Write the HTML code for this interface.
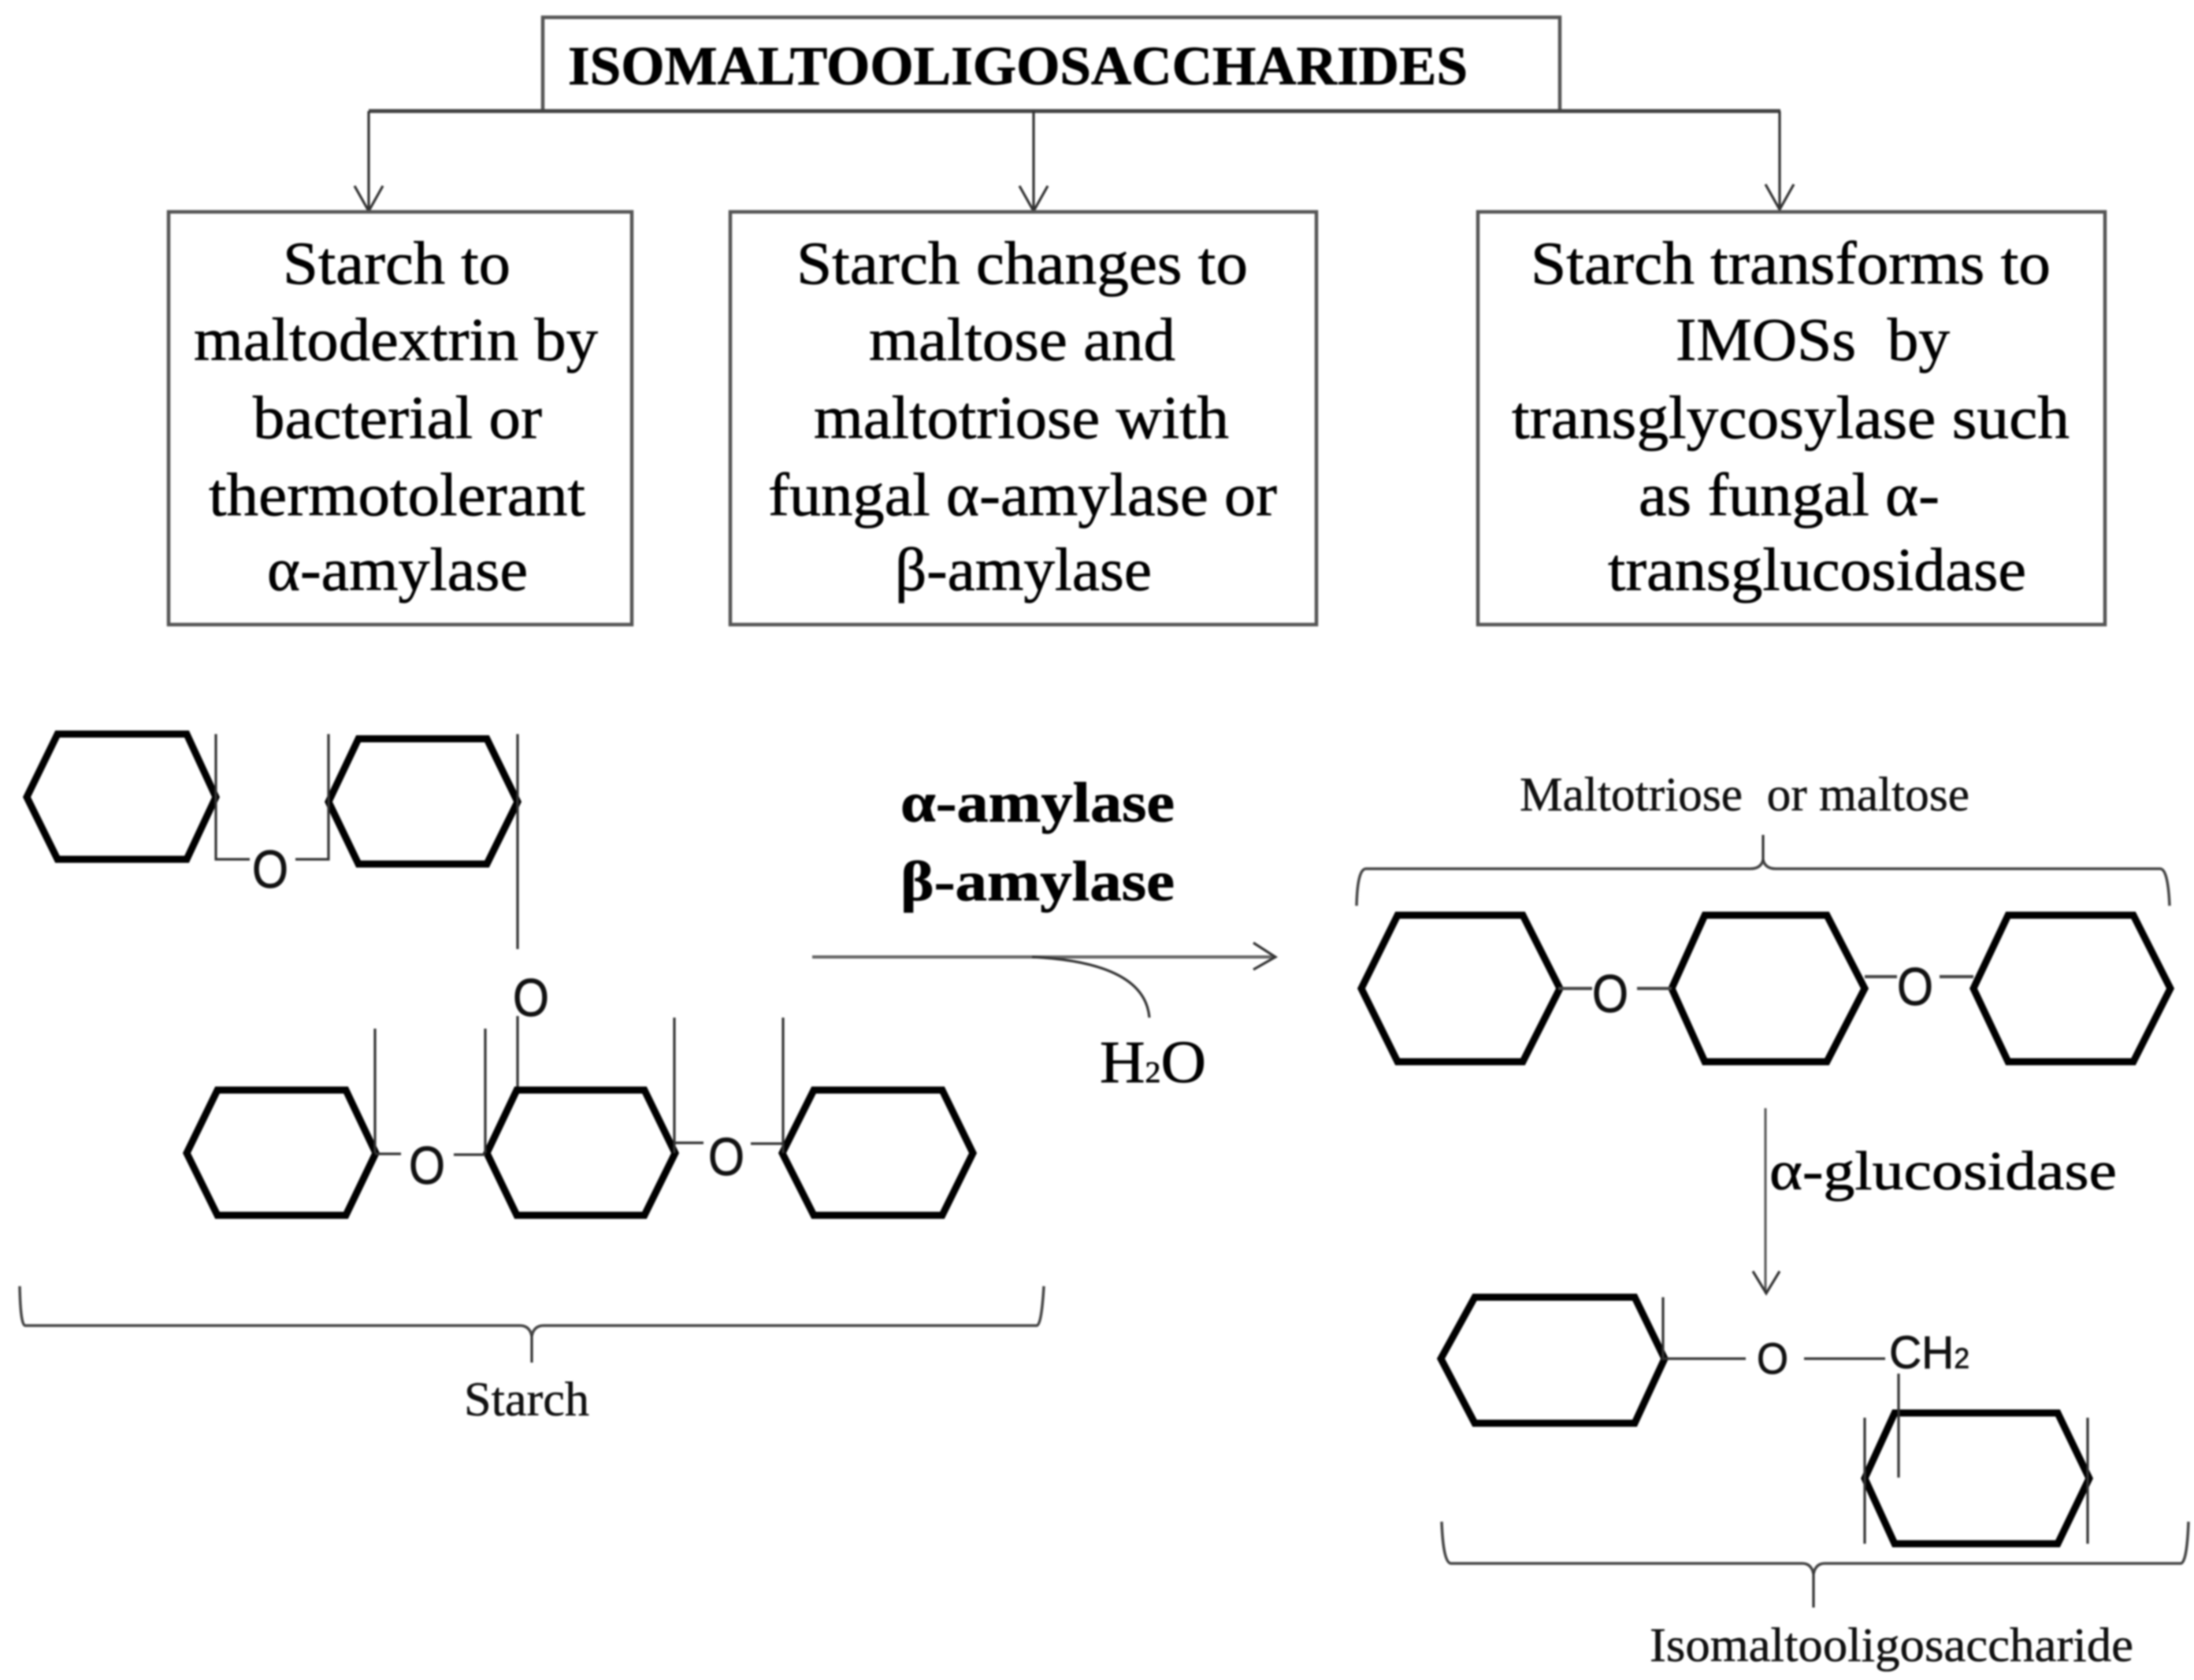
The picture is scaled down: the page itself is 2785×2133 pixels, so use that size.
<!DOCTYPE html>
<html>
<head>
<meta charset="utf-8">
<style>
html,body{margin:0;padding:0;background:#fff;width:2785px;height:2133px;overflow:hidden}
svg{display:block;filter:blur(1.1px)}
text{font-family:"Liberation Serif",serif;fill:#000;stroke:#000;stroke-width:0.7px;white-space:pre}
.b{font-size:77px}
.s{font-family:"Liberation Sans",sans-serif;font-size:68px;fill:#111;stroke:#111;stroke-width:0.8px}
.l{font-size:61px;fill:#111;stroke:#111;stroke-width:0.5px}
.hex{fill:none;stroke:#000;stroke-width:9;stroke-linejoin:miter}
.c{fill:none;stroke:#333;stroke-width:3.2}
.box{fill:none;stroke:#555;stroke-width:4.5}
.br{fill:none;stroke:#444;stroke-width:3.5}
</style>
</head>
<body>
<svg width="2785" height="2133" viewBox="0 0 2785 2133" xmlns="http://www.w3.org/2000/svg">
<rect width="2785" height="2133" fill="#fff"/>

<!-- top box -->
<path class="box" d="M689 141V22H1980V141"/>
<path d="M468 141H2260" fill="none" stroke="#444" stroke-width="5"/>
<text x="721" y="107" font-size="70" font-weight="bold" textLength="1142" lengthAdjust="spacingAndGlyphs">ISOMALTOOLIGOSACCHARIDES</text>

<!-- arrows -->
<path class="c" d="M468 141V268M450 236L468 268L486 236"/>
<path class="c" d="M1312 141V268M1294 236L1312 268L1330 236"/>
<path class="c" d="M2259 141V266M2241 234L2259 266L2277 234"/>

<!-- boxes -->
<rect class="box" x="214" y="269" width="588" height="524"/>
<rect class="box" x="927" y="269" width="744" height="524"/>
<rect class="box" x="1876" y="269" width="796" height="524"/>

<text class="b" x="359" y="360" textLength="289" lengthAdjust="spacingAndGlyphs">Starch to</text>
<text class="b" x="246" y="457" textLength="513" lengthAdjust="spacingAndGlyphs">maltodextrin by</text>
<text class="b" x="321" y="556" textLength="367" lengthAdjust="spacingAndGlyphs">bacterial or</text>
<text class="b" x="265" y="654" textLength="478" lengthAdjust="spacingAndGlyphs">thermotolerant</text>
<text class="b" x="339" y="749" textLength="331" lengthAdjust="spacingAndGlyphs">α-amylase</text>

<text class="b" x="1011" y="360" textLength="573" lengthAdjust="spacingAndGlyphs">Starch changes to</text>
<text class="b" x="1103" y="457" textLength="389" lengthAdjust="spacingAndGlyphs">maltose and</text>
<text class="b" x="1033" y="556" textLength="527" lengthAdjust="spacingAndGlyphs">maltotriose with</text>
<text class="b" x="975" y="654" textLength="646" lengthAdjust="spacingAndGlyphs">fungal α-amylase or</text>
<text class="b" x="1136" y="749" textLength="326" lengthAdjust="spacingAndGlyphs">β-amylase</text>

<text class="b" x="1943" y="360" textLength="660" lengthAdjust="spacingAndGlyphs">Starch transforms to</text>
<text class="b" x="2127" y="457" textLength="348" lengthAdjust="spacingAndGlyphs">IMOSs  by</text>
<text class="b" x="1919" y="556" textLength="708" lengthAdjust="spacingAndGlyphs">transglycosylase such</text>
<text class="b" x="2080" y="654" textLength="382" lengthAdjust="spacingAndGlyphs">as fungal α-</text>
<text class="b" x="2041" y="749" textLength="531" lengthAdjust="spacingAndGlyphs">transglucosidase</text>

<!-- starch structure -->
<polygon class="hex" points="34,1012 73,932 237,932 274,1012 237,1091 73,1091"/>
<polygon class="hex" points="417,1018 455,938 618,938 657,1018 618,1097 455,1097"/>
<path class="c" d="M274 932V1091H317M375 1091H417V932M657 932V1205"/>
<text class="s" x="320" y="1127" textLength="46" lengthAdjust="spacingAndGlyphs">O</text>
<text class="s" x="651" y="1290" textLength="46" lengthAdjust="spacingAndGlyphs">O</text>
<path class="c" d="M657 1290V1382"/>

<polygon class="hex" points="237,1464 276,1384 439,1384 477,1464 439,1543 276,1543"/>
<polygon class="hex" points="618,1464 656,1384 818,1384 857,1464 818,1543 656,1543"/>
<polygon class="hex" points="993,1464 1033,1384 1196,1384 1235,1464 1196,1543 1033,1543"/>
<path class="c" d="M476 1306V1464M616 1306V1464M856 1292V1464M994 1292V1464"/>
<path class="c" d="M476 1465H509M576 1466H616M857 1451H893M953 1452H994"/>
<text class="s" x="519" y="1503" textLength="46" lengthAdjust="spacingAndGlyphs">O</text>
<text class="s" x="899" y="1492" textLength="46" lengthAdjust="spacingAndGlyphs">O</text>

<path class="br" d="M25 1633Q26 1683 32 1683H660Q672 1683 675 1696Q678 1683 690 1683H1316Q1322 1683 1325 1633"/>
<path class="c" d="M675 1694V1730"/>
<text class="l" x="589" y="1797" textLength="159" lengthAdjust="spacingAndGlyphs">Starch</text>

<!-- reaction arrow -->
<text x="1143" y="1043" font-size="72" font-weight="bold" textLength="348" lengthAdjust="spacingAndGlyphs">α-amylase</text>
<text x="1143" y="1143" font-size="72" font-weight="bold" textLength="348" lengthAdjust="spacingAndGlyphs">β-amylase</text>
<path d="M1031 1215H1619" fill="none" stroke="#666" stroke-width="4"/>
<path class="c" d="M1591 1197L1619 1215L1591 1231"/>
<path class="c" d="M1310 1215Q1453 1222 1459 1292"/>
<text x="1396" y="1374" font-size="76" textLength="135" lengthAdjust="spacingAndGlyphs">H<tspan font-size="38">2</tspan>O</text>

<!-- maltotriose -->
<text class="l" x="1929" y="1029" textLength="571" lengthAdjust="spacingAndGlyphs">Maltotriose  or maltose</text>
<path class="br" d="M1722 1150Q1723 1103 1734 1103H2222Q2235 1103 2238 1092Q2241 1103 2254 1103H2742Q2752 1103 2754 1150"/>
<path class="c" d="M2238 1094V1060"/>
<polygon class="hex" points="1728,1255 1774,1162 1933,1162 1980,1255 1933,1348 1774,1348"/>
<polygon class="hex" points="2122,1255 2164,1162 2319,1162 2367,1255 2319,1348 2164,1348"/>
<polygon class="hex" points="2505,1255 2549,1162 2708,1162 2755,1255 2708,1348 2549,1348"/>
<path d="M1978 1255H2021M2078 1255H2122M2367 1240H2408M2462 1240H2505" fill="none" stroke="#444" stroke-width="4"/>
<text class="s" x="2021" y="1285" textLength="46" lengthAdjust="spacingAndGlyphs">O</text>
<text class="s" x="2408" y="1276" textLength="46" lengthAdjust="spacingAndGlyphs">O</text>

<!-- glucosidase arrow -->
<path d="M2241 1407V1642" fill="none" stroke="#555" stroke-width="3"/>
<path class="c" d="M2225 1614L2242 1642L2259 1614"/>
<text x="2246" y="1510" font-size="70" textLength="441" lengthAdjust="spacingAndGlyphs">α-glucosidase</text>

<!-- isomaltooligosaccharide -->
<polygon class="hex" points="1829,1725 1872,1647 2075,1647 2113,1725 2075,1807 1872,1807"/>
<polygon class="hex" points="2367,1877 2405,1794 2612,1794 2652,1877 2612,1960 2405,1960"/>
<path class="c" d="M2111 1647V1727M2113 1725H2216M2290 1725H2393M2410 1744V1876M2367 1800V1960M2650 1800V1960"/>
<text class="s" x="2230" y="1744" textLength="40" lengthAdjust="spacingAndGlyphs" style="font-size:56px">O</text>
<text class="s" x="2398" y="1737" style="font-size:58px" textLength="102" lengthAdjust="spacingAndGlyphs">CH<tspan style="font-size:36px">2</tspan></text>
<path class="br" d="M1830 1932Q1832 1985 1842 1985H2288Q2299 1985 2302 1998Q2305 1985 2316 1985H2768Q2776 1985 2778 1932"/>
<path class="c" d="M2302 1995V2041"/>
<text class="l" x="2094" y="2109" textLength="614" lengthAdjust="spacingAndGlyphs">Isomaltooligosaccharide</text>
</svg>
</body>
</html>
